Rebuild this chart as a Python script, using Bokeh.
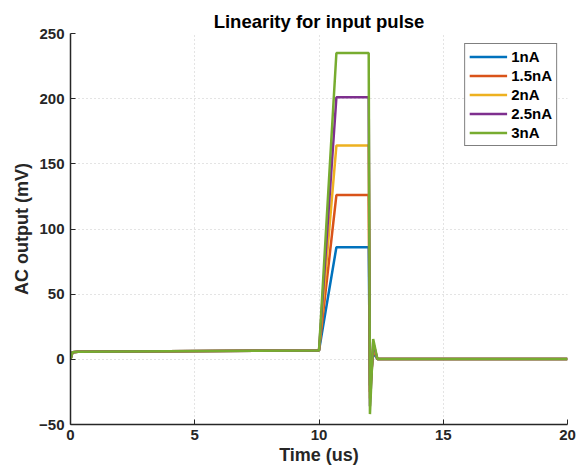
from bokeh.plotting import figure
from bokeh.models import FixedTicker, Legend, LegendItem
from bokeh.embed import file_html
from bokeh.resources import INLINE

# Data (time in us, output in mV)
t = [0.0, 0.08, 0.3, 10.0, 10.7, 12.0, 12.05, 12.18, 12.35, 20.0]
s_1nA   = [0.0, 5.5, 5.8, 6.8, 86.0, 86.0, -20.0, 5.0, 0.3, 0.2]
s_1_5nA = [0.0, 5.5, 5.8, 6.8, 126.0, 126.0, -25.0, 8.0, 0.3, 0.2]
s_2nA   = [0.0, 5.5, 5.8, 6.8, 164.0, 164.0, -30.0, 10.0, 0.3, 0.2]
s_2_5nA = [0.0, 5.5, 5.8, 6.8, 201.0, 201.0, -36.0, 13.0, 0.3, 0.2]
s_3nA   = [0.0, 5.5, 5.8, 6.8, 235.0, 235.0, -42.0, 15.5, 0.3, 0.2]
labels = ["1nA", "1.5nA", "2nA", "2.5nA", "3nA"]
series = [s_1nA, s_1_5nA, s_2nA, s_2_5nA, s_3nA]
colors = ["#0072BD", "#D95319", "#EDB120", "#7E2F8E", "#77AC30"]
x_ticks = [0, 5, 10, 15, 20]
y_ticks = [-50, 0, 50, 100, 150, 200, 250]

FONT = "Liberation Sans"

p = figure(width=586, height=475, output_backend="svg", toolbar_location=None,
           x_range=(0, 20), y_range=(-50, 250),
           title="Linearity for input pulse",
           min_border_left=70, min_border_right=19, min_border_top=33, min_border_bottom=51)

items = []
for lab, ys, c in zip(labels, series, colors):
    r = p.line(t, ys, line_color=c, line_width=2.5)
    items.append(LegendItem(label=lab, renderers=[r]))

legend = Legend(items=items, location="top_right")
legend.label_text_font = FONT
legend.label_text_font_style = "bold"
legend.label_text_font_size = "15px"
legend.label_text_color = "black"
legend.border_line_color = "black"
legend.border_line_width = 1
legend.background_fill_alpha = 1
legend.glyph_width = 38
legend.glyph_height = 17
legend.label_height = 17
legend.spacing = 2
legend.padding = 4
legend.margin = 10
legend.label_standoff = 4
p.add_layout(legend)

p.title.text_font = FONT
p.title.text_font_size = "18.5px"
p.title.text_font_style = "bold"
p.title.align = "center"
p.title.text_color = "black"
p.title.standoff = 4

p.outline_line_color = None
p.background_fill_color = "white"

for ax in (p.xaxis[0], p.yaxis[0]):
    ax.axis_line_color = "#262626"
    ax.axis_line_width = 1.5
    ax.major_tick_in = 5
    ax.major_tick_out = 0
    ax.minor_tick_in = 0
    ax.minor_tick_out = 0
    ax.major_tick_line_color = "#262626"
    ax.major_label_text_font = FONT
    ax.major_label_text_font_style = "bold"
    ax.major_label_text_font_size = "15px"
    ax.major_label_text_color = "#262626"
    ax.axis_label_text_font = FONT
    ax.axis_label_text_font_style = "bold"
    ax.axis_label_text_font_size = "18px"
    ax.axis_label_text_color = "#262626"

p.xaxis[0].ticker = FixedTicker(ticks=x_ticks)
p.yaxis[0].ticker = FixedTicker(ticks=y_ticks)
p.xaxis[0].axis_label = "Time (us)"
p.yaxis[0].axis_label = "AC output (mV)"
p.xaxis[0].axis_label_standoff = 2
p.yaxis[0].axis_label_standoff = 4
p.xaxis[0].major_label_standoff = 5
p.yaxis[0].major_label_standoff = 6

for g in (p.xgrid[0], p.ygrid[0]):
    g.grid_line_color = "#c8c8c8"
    g.grid_line_dash = "1 3"
    g.grid_line_width = 1

open("out.html", "w").write(file_html(p, INLINE))
